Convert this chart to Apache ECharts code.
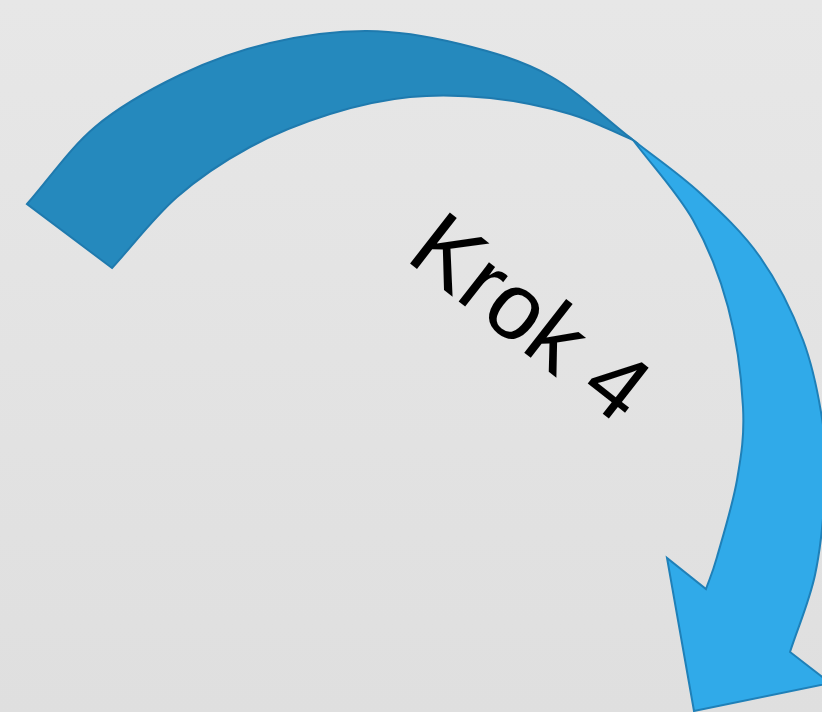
<!DOCTYPE html>
<html>
<head>
<meta charset="utf-8">
<title>Krok 4</title>
<script src="https://cdn.jsdelivr.net/npm/echarts@6/dist/echarts.min.js"></script>
<style>
  html, body { margin: 0; padding: 0; }
  #chart { width: 822px; height: 712px; }
</style>
</head>
<body>
<div id="chart"></div>
<script>
// edge points of the arrow, in picture units (x right, y down)
var darkOuter = [[27,204],[95,127],[180,75],[270,43],[367,31],[460,44],[550,76],[633,140]];
var darkInner = [[112,268],[177,197],[250,147],[330,114],[410,97],[490,98],[570,114],[633,140]];
var lightOuter = [[633,140],[700,193],[760,257],[803,340],[823,425],[825,490],[815,575],[790,652]];
var lightInner = [[633,140],[693,220],[728,307],[743,407],[737,480],[717,557],[706,589]];
// outer notch, right barb, tip, left barb, inner notch
var arrowHead = [[790,652],[830,683],[694,711],[667,558],[706,589]];

var label = 'Krok 4';

// catmull-rom through the points -> bezier path pieces
function curvePath(pts) {
  var d = '';
  var n = pts.length;
  for (var i = 0; i < n - 1; i++) {
    var p1 = pts[i];
    var p2 = pts[i + 1];
    // mirror the neighbour at the ends so the end tangent stays natural
    var p0 = i > 0 ? pts[i - 1] : [2 * p1[0] - p2[0], 2 * p1[1] - p2[1]];
    var p3 = i < n - 2 ? pts[i + 2] : [2 * p2[0] - p1[0], 2 * p2[1] - p1[1]];
    var c1 = [p1[0] + (p2[0] - p0[0]) / 6, p1[1] + (p2[1] - p0[1]) / 6];
    var c2 = [p2[0] - (p3[0] - p1[0]) / 6, p2[1] - (p3[1] - p1[1]) / 6];
    d += ' C' + c1[0] + ' ' + c1[1] + ' ' + c2[0] + ' ' + c2[1] + ' ' + p2[0] + ' ' + p2[1];
  }
  return d;
}

function toPx(api, list) {
  return list.map(function (p) { return api.coord(p); });
}

var shapes = [
  { name: 'light', fill: '#30aae9', stroke: '#1f80b8' },
  { name: 'dark', fill: '#2589bd', stroke: '#1f7aae' }
];

function renderItem(params, api) {
  var s = shapes[params.dataIndex];
  var d;
  if (s.name === 'dark') {
    var o = toPx(api, darkOuter);
    var inn = toPx(api, darkInner).reverse();
    d = 'M' + o[0][0] + ' ' + o[0][1] + curvePath(o) + ' L' + inn[0][0] + ' ' + inn[0][1] + curvePath(inn) + ' Z';
  } else {
    var lo = toPx(api, lightOuter);
    var li = toPx(api, lightInner).reverse();
    var head = toPx(api, arrowHead);
    d = 'M' + lo[0][0] + ' ' + lo[0][1] + curvePath(lo);
    for (var k = 1; k < head.length; k++) {
      d += ' L' + head[k][0] + ' ' + head[k][1];
    }
    d += curvePath(li) + ' Z';
  }
  return {
    type: 'path',
    shape: { pathData: d },
    style: { fill: s.fill, stroke: s.stroke, lineWidth: 2, lineJoin: 'miter' }
  };
}

var chart = echarts.init(document.getElementById('chart'));
chart.setOption({
  animation: false,
  backgroundColor: {
    type: 'linear', x: 0, y: 0, x2: 0, y2: 1,
    colorStops: [{ offset: 0, color: '#e7e7e7' }, { offset: 1, color: '#dfdfdf' }]
  },
  grid: { left: 0, right: 0, top: 0, bottom: 0 },
  xAxis: { type: 'value', min: 0, max: 822, show: false },
  yAxis: { type: 'value', min: 0, max: 712, inverse: true, show: false },
  series: [{
    type: 'custom',
    renderItem: renderItem,
    data: [0, 1]
  }],
  graphic: [{
    type: 'text',
    x: 527,
    y: 322,
    rotation: -38 * Math.PI / 180,
    style: {
      text: label,
      fill: '#000',
      font: '94px "Liberation Sans", Arial, sans-serif',
      textAlign: 'center',
      textVerticalAlign: 'middle'
    }
  }]
});
</script>
</body>
</html>
